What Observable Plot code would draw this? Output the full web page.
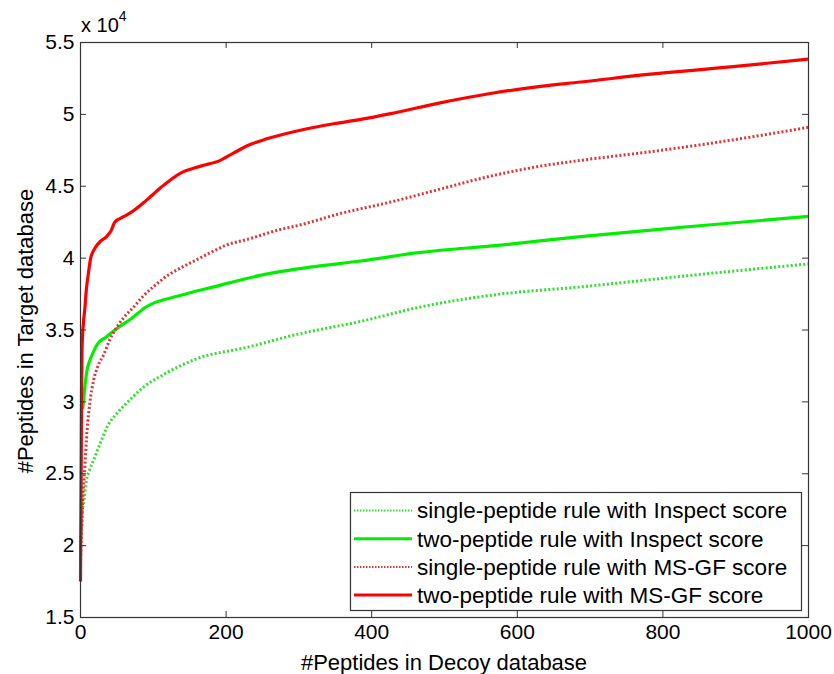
<!DOCTYPE html>
<html><head><meta charset="utf-8">
<script src="https://cdn.jsdelivr.net/npm/d3@7"></script>
<script src="https://cdn.jsdelivr.net/npm/@observablehq/plot@0.6"></script>
<style>body{margin:0;background:#fff}</style>
</head><body><div id="chart"></div>
<script>
const xTicks = [0, 200, 400, 600, 800, 1000];
const yTicks = [15000, 20000, 25000, 30000, 35000, 40000, 45000, 50000, 55000];
const seriesNames = [
  "single-peptide rule with Inspect score",
  "two-peptide rule with Inspect score",
  "single-peptide rule with MS-GF score",
  "two-peptide rule with MS-GF score"
];
const seriesColors = ["#2ee02e", "#00ee00", "#e03434", "#ff0000"];
const seriesDotted = [true, false, true, false];

const singleInspect = [[0,20000],[2,22000],[5,23200],[8,24500],[12,25200],[20,26200],[27,27100],[37,28300],[50,29200],[65,30000],[86,31000],[114,31900],[160,33000],[229,33800],[298,34700],[385,35600],[467,36600],[577,37500],[687,38000],[838,38800],[1000,39600]];
const twoInspect = [[3,29500],[5,30500],[7,31500],[9,32200],[13,32900],[18,33500],[23,34000],[35,34500],[50,35100],[70,35800],[90,36600],[137,37400],[183,38000],[247,38800],[320,39400],[385,39800],[467,40400],[577,40900],[687,41500],[838,42200],[1000,42900]];
const singleMSGF = [[0,19000],[3,23000],[6,25500],[9,28000],[13,30000],[18,31500],[24,32500],[32,33300],[40,34300],[50,35200],[60,35900],[73,36600],[85,37300],[100,38000],[120,38800],[137,39300],[160,39900],[183,40500],[200,40900],[229,41300],[275,42000],[293,42200],[357,43100],[426,43900],[494,44800],[563,45700],[632,46400],[687,46800],[783,47400],[893,48200],[1000,49100]];
const twoMSGF = [[0,17500],[1,26000],[1.5,31000],[2,33500],[4,35500],[6,36500],[8,37800],[11,39000],[14,40000],[20,40700],[28,41200],[36,41500],[42,41900],[47,42500],[60,42900],[70,43200],[90,44000],[110,44900],[137,45900],[165,46400],[192,46800],[210,47300],[233,47900],[256,48300],[302,48900],[348,49350],[385,49650],[426,50050],[494,50800],[563,51450],[632,51950],[687,52250],[783,52800],[893,53300],[1000,53850]];

const seriesData = [singleInspect, twoInspect, singleMSGF, twoMSGF];

const lineMarks = seriesData.map((pts, i) => Plot.line(pts, {
  x: d => d[0], y: d => d[1],
  stroke: seriesColors[i],
  strokeWidth: seriesDotted[i] ? 3 : 3.2,
  strokeDasharray: seriesDotted[i] ? "2,2.2" : undefined,
  strokeLinecap: "butt",
  curve: "monotone-x"
}));

const frameW = 834 - 80 - 26, frameH = 674 - 42 - 57, tickLen = 6;
const axisColor = "#333";
const ff = "'Liberation Sans', Arial, sans-serif";

const plot = Plot.plot({
  width: 834, height: 674,
  marginLeft: 80, marginRight: 26, marginTop: 42, marginBottom: 57,
  x: {domain: [0, 1000]},
  y: {domain: [15000, 55000]},
  style: {fontFamily: ff, fontSize: "21px", color: "#000", background: "#fff"},
  marks: [
    ...lineMarks,
    Plot.tickX(xTicks, {x: d => d, insetTop: frameH - tickLen, stroke: axisColor}),
    Plot.tickX(xTicks, {x: d => d, insetBottom: frameH - tickLen, stroke: axisColor}),
    Plot.tickY(yTicks, {y: d => d, insetRight: frameW - tickLen, stroke: axisColor}),
    Plot.tickY(yTicks, {y: d => d, insetLeft: frameW - tickLen, stroke: axisColor}),
    Plot.axisX(xTicks, {tickSize: 0, tickPadding: 7, tickFormat: d => String(d), label: null, fill: "#000"}),
    Plot.axisY(yTicks, {tickSize: 0, tickPadding: 6, tickFormat: d => String(d / 1e4), label: null, fill: "#000"}),
    Plot.frame({stroke: axisColor, strokeWidth: 1.2})
  ]
});
document.getElementById("chart").appendChild(plot);

const svg = d3.select(plot);
// multiplier label
const mult = svg.append("text").attr("x", 81).attr("y", 32).attr("text-anchor", "start")
  .attr("font-family", ff).attr("font-size", 20).attr("fill", "#000");
mult.append("tspan").text("x 10");
mult.append("tspan").attr("font-size", 14).attr("dy", -11).text("4");
// axis titles
svg.append("text").attr("x", 444).attr("y", 662).attr("dy", "0.35em").attr("text-anchor", "middle")
  .attr("font-family", ff).attr("font-size", 22).attr("fill", "#000").text("#Peptides in Decoy database");
svg.append("text").attr("transform", "translate(25,331) rotate(-90)").attr("dy", "0.35em").attr("text-anchor", "middle")
  .attr("font-family", ff).attr("font-size", 22).attr("fill", "#000").text("#Peptides in Target database");
// legend
const lg = svg.append("g");
lg.append("rect").attr("x", 350.5).attr("y", 492.5).attr("width", 451).attr("height", 118)
  .attr("fill", "#fff").attr("stroke", axisColor).attr("stroke-width", 1.2);
seriesNames.forEach((name, i) => {
  const y = 510.5 + i * 28.2;
  lg.append("line").attr("x1", 354).attr("x2", 412).attr("y1", y).attr("y2", y)
    .attr("stroke", seriesColors[i]).attr("stroke-width", seriesDotted[i] ? 2 : 3)
    .attr("stroke-dasharray", seriesDotted[i] ? "1.5,1.5" : null);
  lg.append("text").attr("x", 417).attr("y", y).attr("dy", "0.35em").attr("text-anchor", "start")
    .attr("font-family", ff).attr("font-size", 22.5).attr("fill", "#000").text(name);
});
</script>
</body></html>
